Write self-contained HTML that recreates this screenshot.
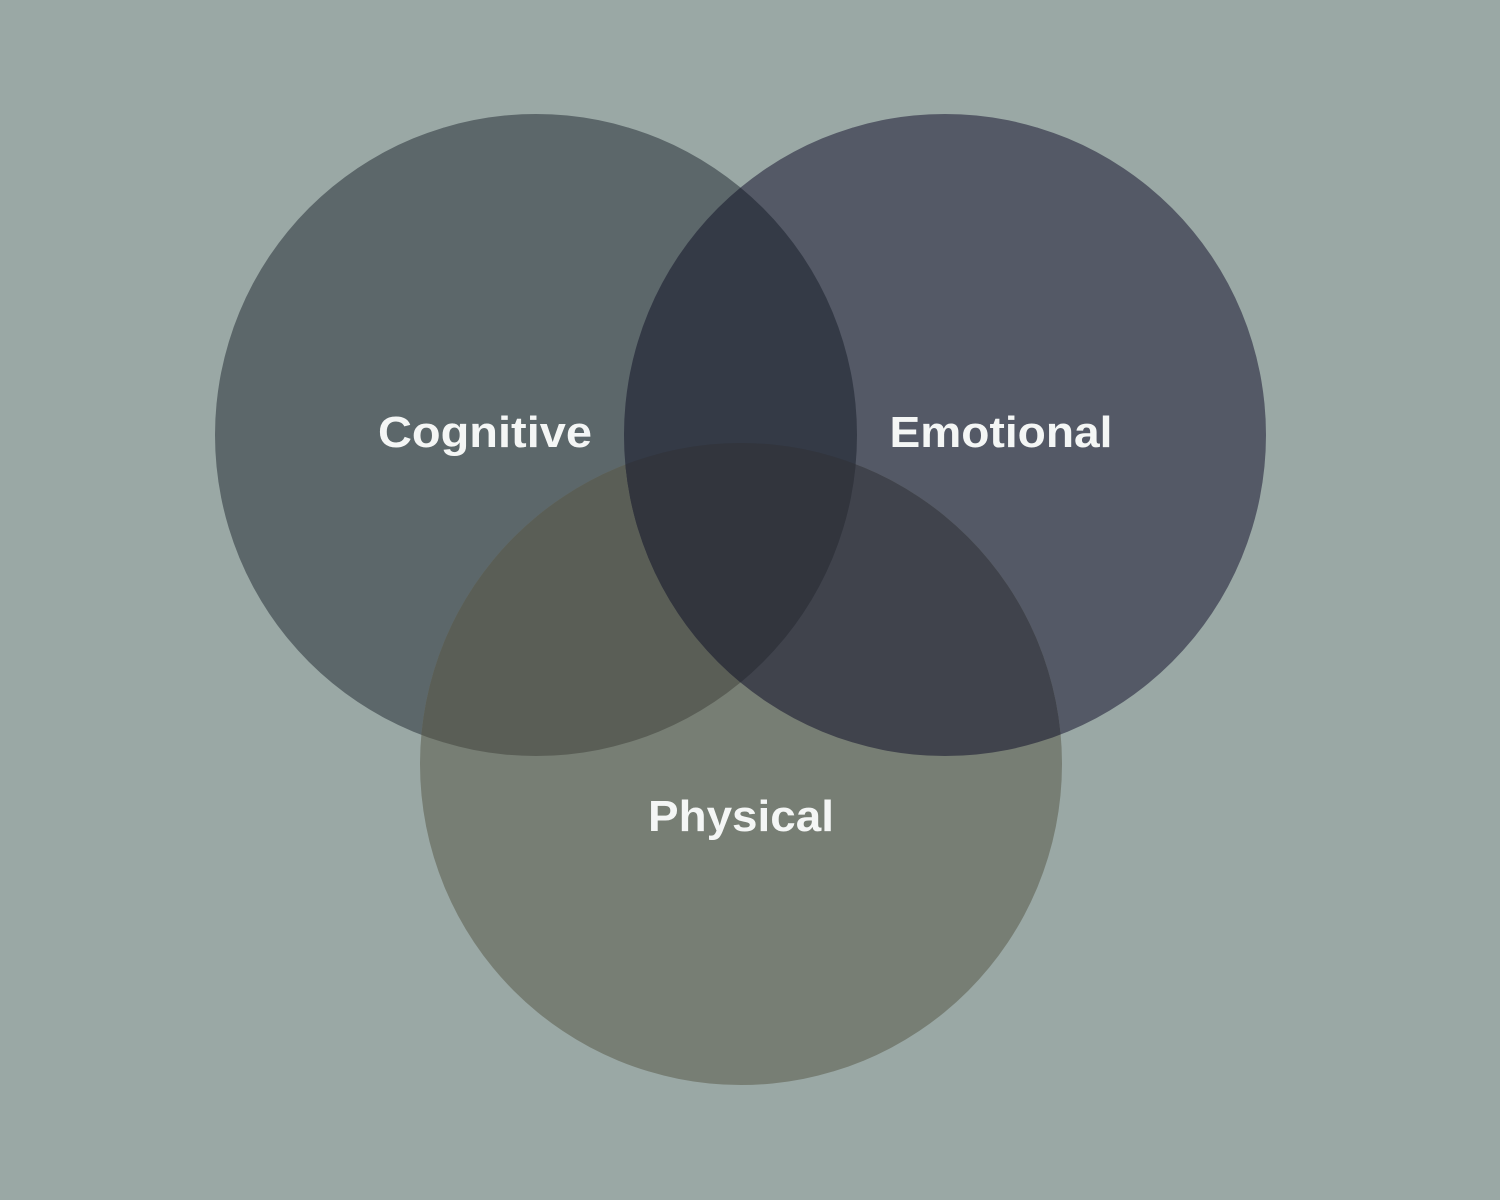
<!DOCTYPE html>
<html><head><meta charset="utf-8"><style>
html,body{margin:0;padding:0;background:#9aa8a5;}
svg{display:block}
text{font-family:"Liberation Sans",sans-serif;font-weight:bold;font-size:44px;fill:#f4f6f5;text-anchor:middle}
</style></head><body>
<svg width="1500" height="1200" viewBox="0 0 1500 1200">
<defs>
<clipPath id="cC"><circle cx="536" cy="435" r="321"/></clipPath>
<clipPath id="cE"><circle cx="945" cy="435" r="321"/></clipPath>
<clipPath id="cP"><circle cx="741" cy="764" r="321"/></clipPath>
</defs>
<rect width="1500" height="1200" fill="#9aa8a5"/>
<circle cx="536" cy="435" r="321" fill="#5c676a"/>
<circle cx="945" cy="435" r="321" fill="#545966"/>
<circle cx="741" cy="764" r="321" fill="#777e74"/>
<g clip-path="url(#cC)"><circle cx="741" cy="764" r="321" fill="#5a5e56"/></g>
<g clip-path="url(#cE)"><circle cx="741" cy="764" r="321" fill="#40434c"/></g>
<g clip-path="url(#cC)"><circle cx="945" cy="435" r="321" fill="#343a46"/></g>
<g clip-path="url(#cC)"><g clip-path="url(#cE)"><circle cx="741" cy="764" r="321" fill="#32353d"/></g></g>
<text x="485" y="447" textLength="214" lengthAdjust="spacingAndGlyphs">Cognitive</text>
<text x="1001" y="447" textLength="223" lengthAdjust="spacingAndGlyphs">Emotional</text>
<text x="741" y="831" textLength="186" lengthAdjust="spacingAndGlyphs">Physical</text>
</svg>
</body></html>
